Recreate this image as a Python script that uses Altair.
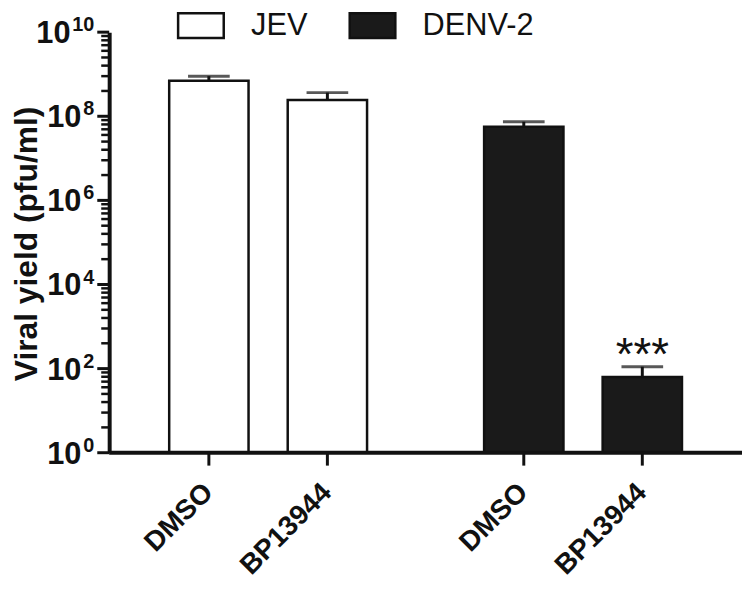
import altair as alt
import pandas as pd

# ---- data ----
viruses = ["JEV", "JEV", "DENV-2", "DENV-2"]
treatments = ["DMSO", "BP13944", "DMSO", "BP13944"]
yield_mean = [7.0e8, 2.45e8, 5.6e7, 63]
yield_upper = [9.0e8, 3.65e8, 7.4e7, 111]
signif = ["", "", "", "***"]

major_exponents = [0, 2, 4, 6, 8, 10]
minor_multipliers = [4, 9, 16, 25, 36, 49, 64, 81]   # Prism-style minor ticks per 100-fold step

virus_order = ["JEV", "DENV-2"]
treat_order = ["DMSO", "BP13944"]

FONT = "Liberation Sans"
INK = "#111111"
W, H = 638, 424

df = pd.DataFrame({"virus": viruses, "treatment": treatments,
                   "mean": yield_mean, "upper": yield_upper, "sig": signif})
majors = pd.DataFrame({"value": [10.0 ** e for e in major_exponents],
                       "exp": [str(e) for e in major_exponents]})
minors = pd.DataFrame({"value": [float(m) * 100.0 ** j for j in range(5) for m in minor_multipliers]})

yscale = alt.Scale(type="log", domain=[1, 1e10], nice=False)
x_enc = alt.X("virus:N", sort=virus_order, axis=None,
              scale=alt.Scale(paddingInner=0.3717, paddingOuter=0.1906))
xo_enc = alt.XOffset("treatment:N", sort=treat_order,
                     scale=alt.Scale(paddingInner=0.3305, paddingOuter=0))

y_axis = alt.Axis(
    values=[1.0], labels=False, ticks=False, grid=False,
    title="Viral yield (pfu/ml)", titleFont=FONT, titleFontSize=32,
    titleFontWeight="bold", titleColor=INK, titleAngle=270,
    titleX=-73, titleY=213, titleAlign="center", titleBaseline="alphabetic",
    domainColor=INK, domainWidth=4,
)


def Y(field=None, **kw):
    if field is None:
        return alt.Y(scale=yscale, axis=y_axis, **kw)
    return alt.Y(field, scale=yscale, axis=y_axis, **kw)


base = alt.Chart(df)

bars = base.mark_bar(stroke=INK, strokeWidth=2.5).encode(
    x=x_enc, xOffset=xo_enc,
    y=Y("mean:Q"),
    y2=alt.datum(1),
    fill=alt.Fill("virus:N", scale=alt.Scale(domain=virus_order, range=["#ffffff", "#1a1a1a"]),
                  legend=alt.Legend(title=None, orient="none", legendX=68, legendY=-31,
                                    direction="horizontal",
                                    symbolType="M-1,-0.543H1V0.543H-1Z", symbolSize=2116,
                                    symbolStrokeColor=INK, symbolStrokeWidth=2.5,
                                    symbolOpacity=1,
                                    labelFont=FONT, labelFontSize=31, labelColor=INK,
                                    labelOffset=26, columnPadding=37, padding=0)),
)

x_ticks = base.mark_rule(color=INK, strokeWidth=3).encode(
    x=x_enc, xOffset=xo_enc,
    y=Y(datum=1), y2=alt.value(H + 13))

err_rule = base.mark_rule(color=INK, strokeWidth=3).encode(
    x=x_enc, xOffset=xo_enc,
    y=Y("mean:Q"), y2="upper:Q")

err_cap = base.mark_tick(color=INK, size=42, thickness=3).encode(
    x=x_enc, xOffset=xo_enc,
    y=Y("upper:Q"))

sig = base.transform_filter("datum.sig != ''").mark_text(
    font=FONT, fontSize=46, baseline="alphabetic", dy=3, color=INK).encode(
    x=x_enc, xOffset=xo_enc,
    y=Y("upper:Q"), text="sig:N")

x_labels = base.mark_text(font=FONT, fontSize=28, fontWeight="bold", angle=315,
                          align="right", baseline="middle", color=INK).encode(
    x=x_enc, xOffset=xo_enc, y=alt.value(H + 36), text="treatment:N")

lbl = alt.Chart(majors)
major_ticks = lbl.mark_rule(color=INK, strokeWidth=3).encode(
    x=alt.value(-12), x2=alt.value(0), y=Y("value:Q"))
minor_ticks = alt.Chart(minors).mark_rule(color=INK, strokeWidth=2.5).encode(
    x=alt.value(-8), x2=alt.value(0), y=Y("value:Q"))

exp_text = lbl.mark_text(font=FONT, fontSize=20, fontWeight="bold", align="right",
                         baseline="alphabetic", dy=-1, color=INK).encode(
    x=alt.value(-15), y=Y("value:Q"), text="exp:N")
main1 = lbl.transform_filter("length(datum.exp) == 1").mark_text(
    font=FONT, fontSize=31, fontWeight="bold", align="right", baseline="alphabetic",
    dy=11, color=INK).encode(
    x=alt.value(-28), y=Y("value:Q"), text=alt.value("10"))
main2 = lbl.transform_filter("length(datum.exp) == 2").mark_text(
    font=FONT, fontSize=31, fontWeight="bold", align="right", baseline="alphabetic",
    dy=11, color=INK).encode(
    x=alt.value(-39), y=Y("value:Q"), text=alt.value("10"))

x_line = lbl.transform_filter("datum.value == 1").mark_rule(color=INK, strokeWidth=4).encode(
    x=alt.value(0), x2=alt.value(W), y=Y("value:Q"))

chart = alt.layer(
    x_ticks, bars, err_rule, err_cap, sig, x_labels,
    major_ticks, minor_ticks, exp_text, main1, main2, x_line
).properties(
    width=W, height=H,
    autosize=alt.AutoSizeParams(type="none"),
    padding={"left": 102, "top": 22, "right": 0, "bottom": 130},
).configure(font=FONT).configure_view(stroke=None)

chart.save("out.html", embed_options={"renderer": "svg", "actions": False})
